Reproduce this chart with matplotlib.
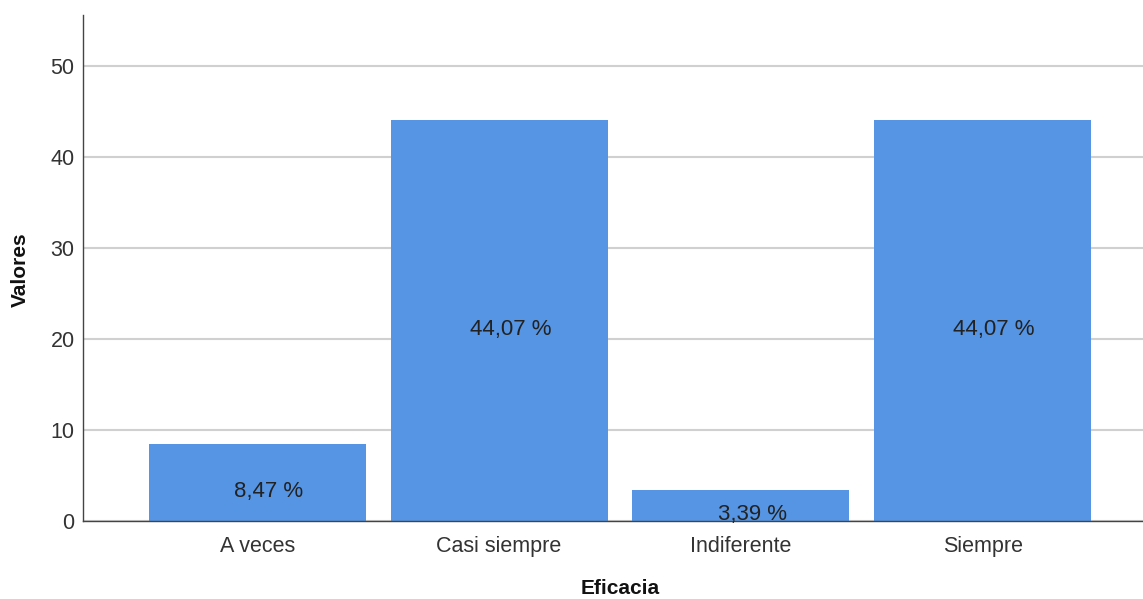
import matplotlib
matplotlib.use("Agg")
import matplotlib.pyplot as plt

categories = ["A veces", "Casi siempre", "Indiferente", "Siempre"]
values = [8.47, 44.07, 3.39, 44.07]
labels = ["8,47 %", "44,07 %", "3,39 %", "44,07 %"]
yticks = [0, 10, 20, 30, 40, 50]

plt.rcParams['font.family'] = ['Liberation Sans', 'DejaVu Sans']

fig = plt.figure(figsize=(11.43, 5.99), dpi=100)
ax = fig.add_axes([83/1143, 78/599, 1 - 83/1143, (521-15)/599])

x = list(range(len(categories)))
ax.bar(x, values, width=0.897, color="#5595E3", zorder=2)

for xi, v, lab in zip(x, values, labels):
    ax.text(xi + 0.047, v/2 - 1.0, lab, ha='center', va='center',
            fontsize=16, color='#222222', zorder=3)

ax.set_xlim(-0.721, 3.663)
ax.set_ylim(0, 55.6)
ax.set_yticks(yticks)
ax.set_xticks(x)
ax.set_xticklabels(categories)
ax.tick_params(axis='both', length=0, labelsize=15.5, colors='#333333')
ax.tick_params(axis='x', pad=11)
ax.tick_params(axis='y', pad=6)
ax.yaxis.grid(True, color='#D0D0D0', linewidth=1.5, zorder=0)
ax.set_axisbelow(True)

for s in ['top', 'right']:
    ax.spines[s].set_visible(False)
ax.spines['left'].set_color('#444444')
ax.spines['bottom'].set_color('#444444')
ax.spines['left'].set_linewidth(1.0)
ax.spines['bottom'].set_linewidth(1.0)

fig.text(620/1143, 1 - 588/599, "Eficacia", ha='center', va='center',
         fontsize=15, fontweight='bold', color='#111111')
fig.text(20/1143, 1 - 270/599, "Valores", ha='center', va='center',
         rotation=90, fontsize=15, fontweight='bold', color='#111111')

fig.savefig("out.png", dpi=100)
